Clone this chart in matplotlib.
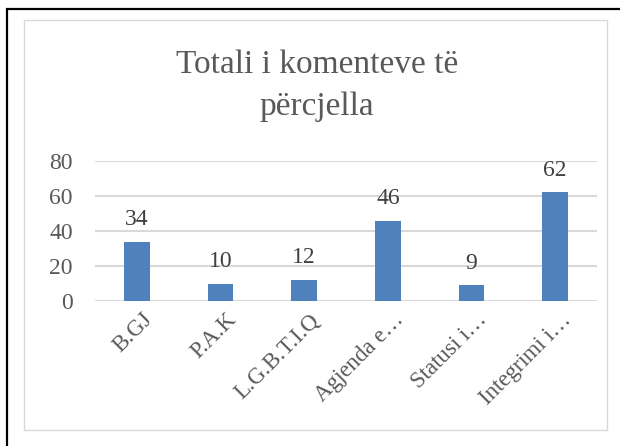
import matplotlib.pyplot as plt
import matplotlib.transforms as mtransforms
from matplotlib.patches import Rectangle

categories = ["B.GJ", "P.A.K", "L.G.B.T.I.Q", "Agjenda e…", "Statusi i…", "Integrimi i…"]
values = [34, 10, 12, 46, 9, 62]
yticks = [0, 20, 40, 60, 80]
title_lines = ["Totali i komenteve të", "përcjella"]

FONT = "Liberation Serif"
BAR_COLOR = "#4F81BD"
GRID_COLOR = "#D9D9D9"
TEXT_COLOR = "#595959"

fig = plt.figure(figsize=(6.2, 4.46), dpi=100)

# outer black frame (only left and top visible in the crop)
fig.add_artist(Rectangle((7 / 620, -0.1), 1.2, 1.1 - 9 / 446 + 0.001,
                         transform=fig.transFigure, fill=False,
                         edgecolor="black", linewidth=1.6))
# chart area border
fig.add_artist(Rectangle((24 / 620, 1 - 430 / 446), (607 - 24) / 620, (430 - 20) / 446,
                         transform=fig.transFigure, fill=False,
                         edgecolor=GRID_COLOR, linewidth=1.0))

ax = fig.add_axes([95 / 620, 1 - 301 / 446, 502 / 620, 140 / 446])
x = range(len(categories))
bars = ax.bar(x, values, width=0.31, color=BAR_COLOR, zorder=3)
for b, v in zip(bars, values):
    ax.annotate(str(v), (b.get_x() + b.get_width() / 2, v), xytext=(0, 12),
                textcoords="offset points", ha="center", va="baseline",
                fontsize=17, family=FONT, color="#404040")

ax.set_xlim(-0.5, len(categories) - 0.5)
ax.set_ylim(0, 80)
ax.set_yticks(yticks)
ax.set_yticklabels([str(t) for t in yticks], fontsize=17, family=FONT, color=TEXT_COLOR)
ax.set_xticks(list(x))
ax.set_xticklabels(categories, fontsize=16.5, family=FONT, color=TEXT_COLOR,
                   rotation=45, ha="right", rotation_mode="anchor")
ax.tick_params(axis="both", length=0)
ax.tick_params(axis="y", pad=16)
ax.tick_params(axis="x", pad=6)
shift = mtransforms.ScaledTranslation(5 / 100, 0, fig.dpi_scale_trans)
for lbl in ax.get_xticklabels():
    lbl.set_transform(lbl.get_transform() + shift)
ax.grid(axis="y", color=GRID_COLOR, linewidth=1.5, zorder=0)
for s in ax.spines.values():
    s.set_visible(False)

for line, base_y in zip(title_lines, [73, 115]):
    fig.text(317 / 620, 1 - base_y / 446, line, ha="center", va="baseline",
             fontsize=24, family=FONT, color=TEXT_COLOR)

fig.savefig("out.png", dpi=100)
